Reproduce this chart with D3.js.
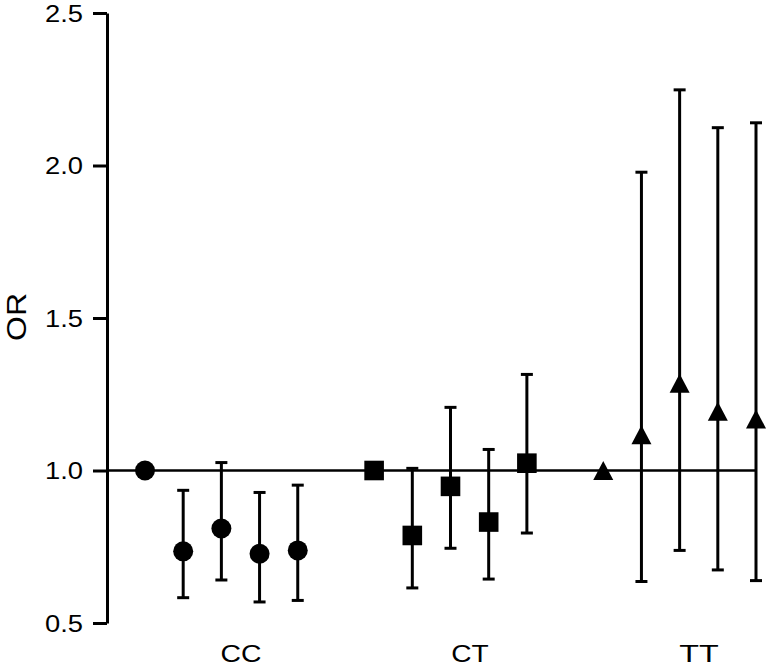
<!DOCTYPE html>
<html>
<head>
<meta charset="utf-8">
<script src="https://cdn.jsdelivr.net/npm/d3@7"></script>
<style>
  body { margin: 0; background: #fff; }
  text { font-family: "Liberation Sans", Arial, Helvetica, sans-serif; fill: #000; }
</style>
</head>
<body>
<svg id="chart" width="767" height="667"></svg>
<script>
// genotype groups and the odds ratios
var categories = ['CC', 'CT', 'TT'];
var shapes = ['circle', 'square', 'triangle'];
var orValues = [
  [1.0, 0.735, 0.81, 0.727, 0.738],
  [1.0, 0.787, 0.948, 0.831, 1.024],
  [1.0, 1.117, 1.286, 1.194, 1.169]
];
var lowerCI = [
  [null, 0.583, 0.641, 0.569, 0.574],
  [null, 0.615, 0.745, 0.644, 0.795],
  [null, 0.636, 0.738, 0.674, 0.639]
];
var upperCI = [
  [null, 0.935, 1.026, 0.928, 0.952],
  [null, 1.007, 1.207, 1.069, 1.315],
  [null, 1.978, 2.248, 2.124, 2.140]
];
var yTicks = [0.5, 1.0, 1.5, 2.0, 2.5];
var refValue = 1.0;

var svg = d3.select('#chart');

var y = d3.scaleLinear().domain([0.5, 2.5]).range([623, 13]);
// 5 slots per group, one empty slot between groups
var slot = d3.scaleLinear().domain([0, 16]).range([145, 756]);
var labelX = d3.scalePoint().domain(categories).range([241, 699]);
var labelLen = d3.scaleOrdinal().domain(categories).range([41, 37.5, 39.5]);

// flatten into rows
var rows = [];
categories.forEach(function (c, gi) {
  orValues[gi].forEach(function (v, i) {
    rows.push({
      group: c, shape: shapes[gi], or: v,
      lo: lowerCI[gi][i], hi: upperCI[gi][i],
      pos: gi * 6 + i
    });
  });
});

// y axis
var axis = svg.append('g')
  .attr('transform', 'translate(107,0)')
  .call(d3.axisLeft(y).tickValues(yTicks).tickFormat(d3.format('.1f'))
    .tickSize(14).tickSizeOuter(0).tickPadding(10));
axis.select('.domain').attr('stroke-width', 3);
axis.selectAll('.tick line').attr('stroke-width', 3);
axis.selectAll('.tick text')
  .style('font-size', '23px')
  .attr('dy', '0.36em')
  .attr('textLength', 38)
  .attr('lengthAdjust', 'spacingAndGlyphs');

svg.append('text')
  .attr('transform', 'translate(26,317) rotate(-90)')
  .attr('text-anchor', 'middle')
  .style('font-size', '27px')
  .attr('textLength', 48)
  .attr('lengthAdjust', 'spacingAndGlyphs')
  .text('OR');

// reference line at OR = 1
svg.append('line')
  .attr('x1', 107).attr('x2', slot(16) + 1)
  .attr('y1', y(refValue)).attr('y2', y(refValue))
  .attr('stroke', '#000').attr('stroke-width', 2.6);

// error bars
var bars = svg.append('g').selectAll('g')
  .data(rows.filter(function (d) { return d.lo !== null; }))
  .join('g')
  .attr('stroke', '#000').attr('stroke-width', 3);

bars.append('line')
  .attr('x1', function (d) { return slot(d.pos); })
  .attr('x2', function (d) { return slot(d.pos); })
  .attr('y1', function (d) { return y(d.lo); })
  .attr('y2', function (d) { return y(d.hi); });

['lo', 'hi'].forEach(function (k) {
  bars.append('line')
    .attr('x1', function (d) { return slot(d.pos) - 6; })
    .attr('x2', function (d) { return slot(d.pos) + 6; })
    .attr('y1', function (d) { return y(d[k]); })
    .attr('y2', function (d) { return y(d[k]); });
});

// markers
function markerPath(d) {
  var cx = slot(d.pos), cy = y(d.or), p = d3.path();
  if (d.shape === 'circle') {
    p.arc(cx, cy, 10, 0, 2 * Math.PI);
  } else if (d.shape === 'square') {
    p.rect(cx - 9.8, cy - 9.8, 19.6, 19.6);
  } else {
    p.moveTo(cx, cy - 9.5);
    p.lineTo(cx + 10, cy + 9.5);
    p.lineTo(cx - 10, cy + 9.5);
    p.closePath();
  }
  return p.toString();
}

svg.append('g').selectAll('path')
  .data(rows)
  .join('path')
  .attr('d', markerPath)
  .attr('fill', '#000');

// group labels
svg.append('g').selectAll('text')
  .data(categories)
  .join('text')
  .attr('x', function (d) { return labelX(d); })
  .attr('y', 662)
  .attr('text-anchor', 'middle')
  .style('font-size', '23px')
  .attr('textLength', function (d) { return labelLen(d); })
  .attr('lengthAdjust', 'spacingAndGlyphs')
  .text(function (d) { return d; });
</script>
</body>
</html>
